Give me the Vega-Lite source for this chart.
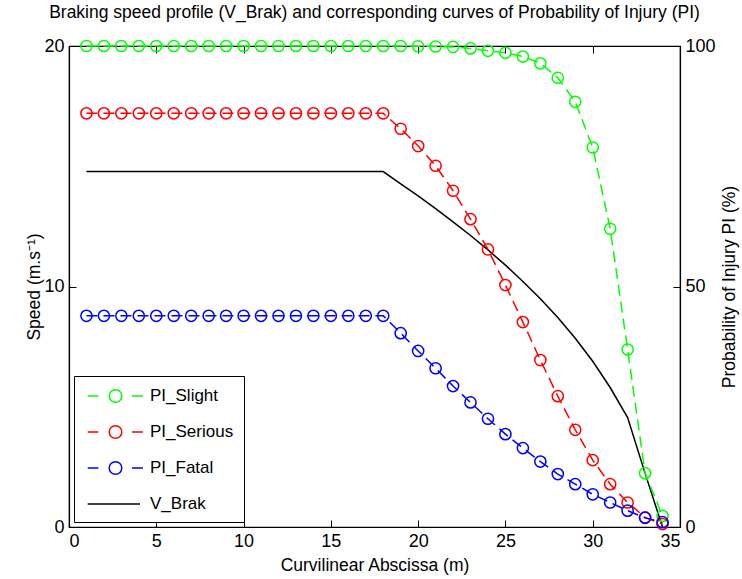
{
  "$schema": "https://vega.github.io/schema/vega-lite/v6.json",
  "width": 611,
  "height": 481,
  "autosize": {"type": "none"},
  "padding": {"left": 69, "top": 46, "right": 62, "bottom": 52},
  "background": "white",
  "title": {
    "text": "Braking speed profile (V_Brak) and corresponding curves of Probability of Injury (PI)",
    "font": "Liberation Sans",
    "fontSize": 17.5,
    "fontWeight": "normal",
    "color": "black",
    "anchor": "middle",
    "offset": 16
  },
  "config": {
    "view": {"stroke": "black", "strokeWidth": 1.2},
    "axis": {
      "labelFont": "Liberation Sans",
      "labelFontSize": 18,
      "labelColor": "black",
      "titleFont": "Liberation Sans",
      "titleFontSize": 17.5,
      "titleFontWeight": "normal",
      "titleColor": "black",
      "domainColor": "black",
      "domainWidth": 1.2,
      "tickColor": "black",
      "tickWidth": 1,
      "tickSize": -7,
      "grid": false
    }
  },
  "datasets": {
    "speed": [
      {"s": 1, "v": 14.78, "series": "V_Brak"},
      {"s": 2, "v": 14.78, "series": "V_Brak"},
      {"s": 3, "v": 14.78, "series": "V_Brak"},
      {"s": 4, "v": 14.78, "series": "V_Brak"},
      {"s": 5, "v": 14.78, "series": "V_Brak"},
      {"s": 6, "v": 14.78, "series": "V_Brak"},
      {"s": 7, "v": 14.78, "series": "V_Brak"},
      {"s": 8, "v": 14.78, "series": "V_Brak"},
      {"s": 9, "v": 14.78, "series": "V_Brak"},
      {"s": 10, "v": 14.78, "series": "V_Brak"},
      {"s": 11, "v": 14.78, "series": "V_Brak"},
      {"s": 12, "v": 14.78, "series": "V_Brak"},
      {"s": 13, "v": 14.78, "series": "V_Brak"},
      {"s": 14, "v": 14.78, "series": "V_Brak"},
      {"s": 15, "v": 14.78, "series": "V_Brak"},
      {"s": 16, "v": 14.78, "series": "V_Brak"},
      {"s": 17, "v": 14.78, "series": "V_Brak"},
      {"s": 18, "v": 14.78, "series": "V_Brak"},
      {"s": 19, "v": 14.27, "series": "V_Brak"},
      {"s": 20, "v": 13.77, "series": "V_Brak"},
      {"s": 21, "v": 13.24, "series": "V_Brak"},
      {"s": 22, "v": 12.69, "series": "V_Brak"},
      {"s": 23, "v": 12.12, "series": "V_Brak"},
      {"s": 24, "v": 11.52, "series": "V_Brak"},
      {"s": 25, "v": 10.89, "series": "V_Brak"},
      {"s": 26, "v": 10.21, "series": "V_Brak"},
      {"s": 27, "v": 9.49, "series": "V_Brak"},
      {"s": 28, "v": 8.71, "series": "V_Brak"},
      {"s": 29, "v": 7.85, "series": "V_Brak"},
      {"s": 30, "v": 6.89, "series": "V_Brak"},
      {"s": 31, "v": 5.8, "series": "V_Brak"},
      {"s": 32, "v": 4.55, "series": "V_Brak"},
      {"s": 33, "v": 2.23, "series": "V_Brak"},
      {"s": 34, "v": 0, "series": "V_Brak"}
    ],
    "pi": [
      {"s": 1, "p": 100, "series": "PI_Slight"},
      {"s": 2, "p": 100, "series": "PI_Slight"},
      {"s": 3, "p": 100, "series": "PI_Slight"},
      {"s": 4, "p": 100, "series": "PI_Slight"},
      {"s": 5, "p": 100, "series": "PI_Slight"},
      {"s": 6, "p": 100, "series": "PI_Slight"},
      {"s": 7, "p": 100, "series": "PI_Slight"},
      {"s": 8, "p": 100, "series": "PI_Slight"},
      {"s": 9, "p": 100, "series": "PI_Slight"},
      {"s": 10, "p": 100, "series": "PI_Slight"},
      {"s": 11, "p": 100, "series": "PI_Slight"},
      {"s": 12, "p": 100, "series": "PI_Slight"},
      {"s": 13, "p": 100, "series": "PI_Slight"},
      {"s": 14, "p": 100, "series": "PI_Slight"},
      {"s": 15, "p": 100, "series": "PI_Slight"},
      {"s": 16, "p": 100, "series": "PI_Slight"},
      {"s": 17, "p": 100, "series": "PI_Slight"},
      {"s": 18, "p": 100, "series": "PI_Slight"},
      {"s": 19, "p": 100, "series": "PI_Slight"},
      {"s": 20, "p": 99.95, "series": "PI_Slight"},
      {"s": 21, "p": 99.9, "series": "PI_Slight"},
      {"s": 22, "p": 99.8, "series": "PI_Slight"},
      {"s": 23, "p": 99.5, "series": "PI_Slight"},
      {"s": 24, "p": 99.0, "series": "PI_Slight"},
      {"s": 25, "p": 98.6, "series": "PI_Slight"},
      {"s": 26, "p": 97.8, "series": "PI_Slight"},
      {"s": 27, "p": 96.4, "series": "PI_Slight"},
      {"s": 28, "p": 93.4, "series": "PI_Slight"},
      {"s": 29, "p": 88.4, "series": "PI_Slight"},
      {"s": 30, "p": 78.9, "series": "PI_Slight"},
      {"s": 31, "p": 62.0, "series": "PI_Slight"},
      {"s": 32, "p": 36.9, "series": "PI_Slight"},
      {"s": 33, "p": 11.2, "series": "PI_Slight"},
      {"s": 34, "p": 2.3, "series": "PI_Slight"},
      {"s": 1, "p": 86.0, "series": "PI_Serious"},
      {"s": 2, "p": 86.0, "series": "PI_Serious"},
      {"s": 3, "p": 86.0, "series": "PI_Serious"},
      {"s": 4, "p": 86.0, "series": "PI_Serious"},
      {"s": 5, "p": 86.0, "series": "PI_Serious"},
      {"s": 6, "p": 86.0, "series": "PI_Serious"},
      {"s": 7, "p": 86.0, "series": "PI_Serious"},
      {"s": 8, "p": 86.0, "series": "PI_Serious"},
      {"s": 9, "p": 86.0, "series": "PI_Serious"},
      {"s": 10, "p": 86.0, "series": "PI_Serious"},
      {"s": 11, "p": 86.0, "series": "PI_Serious"},
      {"s": 12, "p": 86.0, "series": "PI_Serious"},
      {"s": 13, "p": 86.0, "series": "PI_Serious"},
      {"s": 14, "p": 86.0, "series": "PI_Serious"},
      {"s": 15, "p": 86.0, "series": "PI_Serious"},
      {"s": 16, "p": 86.0, "series": "PI_Serious"},
      {"s": 17, "p": 86.0, "series": "PI_Serious"},
      {"s": 18, "p": 86.0, "series": "PI_Serious"},
      {"s": 19, "p": 82.8, "series": "PI_Serious"},
      {"s": 20, "p": 79.2, "series": "PI_Serious"},
      {"s": 21, "p": 75.1, "series": "PI_Serious"},
      {"s": 22, "p": 69.9, "series": "PI_Serious"},
      {"s": 23, "p": 64.0, "series": "PI_Serious"},
      {"s": 24, "p": 57.7, "series": "PI_Serious"},
      {"s": 25, "p": 50.3, "series": "PI_Serious"},
      {"s": 26, "p": 42.6, "series": "PI_Serious"},
      {"s": 27, "p": 34.7, "series": "PI_Serious"},
      {"s": 28, "p": 27.2, "series": "PI_Serious"},
      {"s": 29, "p": 20.2, "series": "PI_Serious"},
      {"s": 30, "p": 13.9, "series": "PI_Serious"},
      {"s": 31, "p": 8.9, "series": "PI_Serious"},
      {"s": 32, "p": 5.1, "series": "PI_Serious"},
      {"s": 33, "p": 2.0, "series": "PI_Serious"},
      {"s": 34, "p": 0.6, "series": "PI_Serious"},
      {"s": 1, "p": 43.9, "series": "PI_Fatal"},
      {"s": 2, "p": 43.9, "series": "PI_Fatal"},
      {"s": 3, "p": 43.9, "series": "PI_Fatal"},
      {"s": 4, "p": 43.9, "series": "PI_Fatal"},
      {"s": 5, "p": 43.9, "series": "PI_Fatal"},
      {"s": 6, "p": 43.9, "series": "PI_Fatal"},
      {"s": 7, "p": 43.9, "series": "PI_Fatal"},
      {"s": 8, "p": 43.9, "series": "PI_Fatal"},
      {"s": 9, "p": 43.9, "series": "PI_Fatal"},
      {"s": 10, "p": 43.9, "series": "PI_Fatal"},
      {"s": 11, "p": 43.9, "series": "PI_Fatal"},
      {"s": 12, "p": 43.9, "series": "PI_Fatal"},
      {"s": 13, "p": 43.9, "series": "PI_Fatal"},
      {"s": 14, "p": 43.9, "series": "PI_Fatal"},
      {"s": 15, "p": 43.9, "series": "PI_Fatal"},
      {"s": 16, "p": 43.9, "series": "PI_Fatal"},
      {"s": 17, "p": 43.9, "series": "PI_Fatal"},
      {"s": 18, "p": 43.9, "series": "PI_Fatal"},
      {"s": 19, "p": 40.3, "series": "PI_Fatal"},
      {"s": 20, "p": 36.6, "series": "PI_Fatal"},
      {"s": 21, "p": 33.0, "series": "PI_Fatal"},
      {"s": 22, "p": 29.3, "series": "PI_Fatal"},
      {"s": 23, "p": 25.9, "series": "PI_Fatal"},
      {"s": 24, "p": 22.5, "series": "PI_Fatal"},
      {"s": 25, "p": 19.3, "series": "PI_Fatal"},
      {"s": 26, "p": 16.4, "series": "PI_Fatal"},
      {"s": 27, "p": 13.6, "series": "PI_Fatal"},
      {"s": 28, "p": 11.0, "series": "PI_Fatal"},
      {"s": 29, "p": 8.9, "series": "PI_Fatal"},
      {"s": 30, "p": 6.8, "series": "PI_Fatal"},
      {"s": 31, "p": 5.1, "series": "PI_Fatal"},
      {"s": 32, "p": 3.4, "series": "PI_Fatal"},
      {"s": 33, "p": 1.9, "series": "PI_Fatal"},
      {"s": 34, "p": 1.0, "series": "PI_Fatal"}
    ]
  },
  "layer": [
    {
      "data": {"name": "speed"},
      "mark": {"type": "line", "strokeWidth": 1.5},
      "encoding": {
        "x": {
          "field": "s", "type": "quantitative",
          "scale": {"domain": [0, 35], "nice": false},
          "axis": {"orient": "bottom", "values": [0, 5, 10, 15, 20, 25, 30, 35], "title": "Curvilinear Abscissa (m)", "labelPadding": 12, "titlePadding": 6}
        },
        "y": {
          "field": "v", "type": "quantitative",
          "scale": {"domain": [0, 20], "nice": false},
          "axis": {"orient": "left", "values": [0, 10, 20], "title": "Speed (m.s⁻¹)", "labelPadding": 12, "titlePadding": 0}
        },
        "color": {
          "field": "series", "type": "nominal",
          "scale": {"domain": ["PI_Slight", "PI_Serious", "PI_Fatal", "V_Brak"], "range": ["#00ff00", "#ff0000", "#0000ff", "#000000"]},
          "legend": {
            "title": null,
            "orient": "bottom-left",
            "offset": 5,
            "strokeColor": "black",
            "fillColor": "white",
            "padding": 10,
            "labelFont": "Liberation Sans",
            "labelFontSize": 17,
            "labelColor": "black",
            "labelOffset": 46,
            "rowPadding": 16,
            "symbolSize": 324,
            "symbolStrokeWidth": 1.5,
            "symbolType": "M-0.7,0H0.48M3.09,0A0.7,0.7 0 1 1 1.69,0A0.7,0.7 0 1 1 3.09,0M4.22,0H5.44",
            "encode": {
              "symbols": {
                "update": {
                  "shape": {"signal": "datum.value === 'V_Brak' ? 'M-0.7,0H5.11' : 'M-0.7,0H0.48M3.09,0A0.7,0.7 0 1 1 1.69,0A0.7,0.7 0 1 1 3.09,0M4.22,0H5.44'"},
                  "fill": {"value": "transparent"},
                  "strokeDash": {"value": []}
                }
              }
            }
          }
        }
      }
    },
    {
      "data": {"name": "pi"},
      "encoding": {
        "x": {
          "field": "s", "type": "quantitative",
          "scale": {"domain": [0, 35], "nice": false},
          "axis": {"orient": "top", "values": [0, 5, 10, 15, 20, 25, 30, 35], "labels": false, "title": null, "domain": false}
        },
        "y": {
          "field": "p", "type": "quantitative",
          "scale": {"domain": [0, 100], "nice": false},
          "axis": {"orient": "right", "values": [0, 50, 100], "title": "Probability of Injury PI (%)", "titleAngle": 270, "titleBaseline": "top", "labelPadding": 12, "titlePadding": 5}
        },
        "color": {"field": "series", "type": "nominal"}
      },
      "layer": [
        {"mark": {"type": "line", "strokeWidth": 1.5, "strokeDash": [11, 6]}},
        {"mark": {"type": "point", "shape": "circle", "filled": false, "size": 125, "strokeWidth": 1.5, "opacity": 1}}
      ]
    }
  ],
  "resolve": {"scale": {"y": "independent", "x": "independent"}}
}
